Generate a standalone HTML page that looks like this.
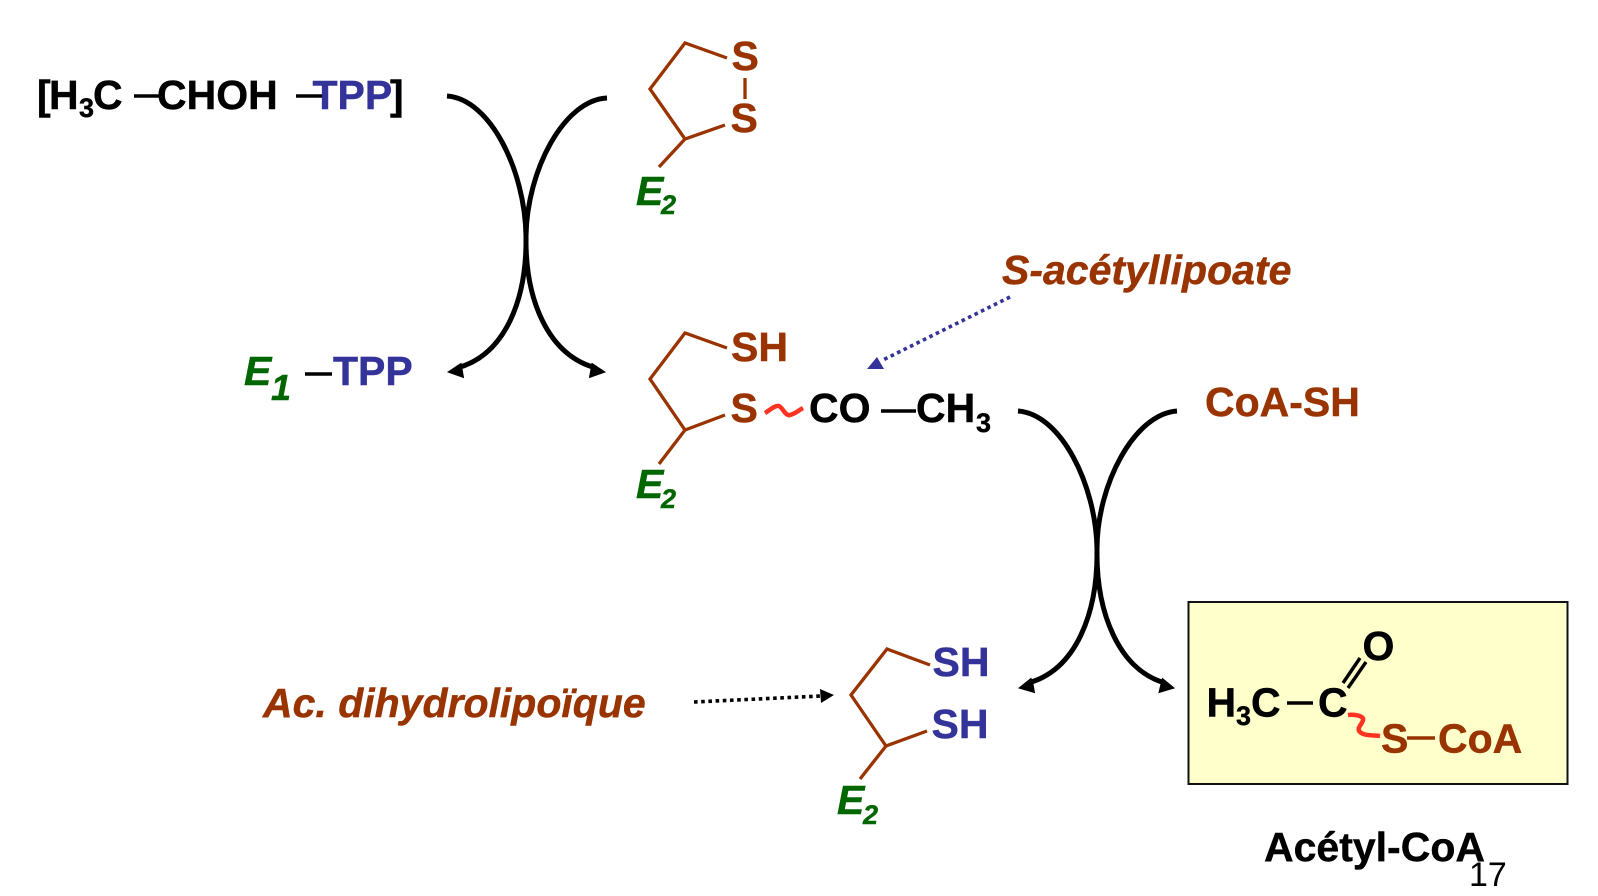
<!DOCTYPE html>
<html>
<head>
<meta charset="utf-8">
<style>
html,body{margin:0;padding:0;background:#fff;width:1598px;height:896px;overflow:hidden}
svg{display:block}
text{font-family:"Liberation Sans",sans-serif;font-weight:bold;font-size:41px;stroke-width:.45px}
.k{fill:#000;stroke:#000}.b{fill:#333399;stroke:#333399}.r{fill:#993300;stroke:#993300}.g{fill:#006600;stroke:#006600}
.i{font-style:italic}
.s{font-size:27px}
</style>
</head>
<body>
<svg width="1598" height="896" viewBox="0 0 1598 896" xmlns="http://www.w3.org/2000/svg">
<rect x="1188.5" y="602" width="379" height="182" fill="#FFFFCC" stroke="#111" stroke-width="2"/>

<!-- curved arrows -->
<g fill="none" stroke="#000" stroke-width="5">
<path d="M447 96C490 99 525 170 526 236C527 300 505 355 457 368"/>
<path d="M607 98C564 100 527 170 526 236C525 300 548 355 596 368"/>
<path d="M1018 411C1061 414 1096 485 1097 549C1098 613 1076 670 1028 683"/>
<path d="M1177 411C1134 414 1097 485 1097 549C1096 613 1119 670 1165 683"/>
</g>
<g fill="#000" stroke="#000" stroke-width="1" stroke-linejoin="miter">
<polygon points="448,372 461,363.5 462,369 463.5,377.5"/>
<polygon points="605,372 592,363.5 591,369 589.5,377.5"/>
<polygon points="1019,688 1031,678.5 1033,684 1034.5,692.5"/>
<polygon points="1174,688 1162.5,678.5 1161,684 1159,692.5"/>
</g>

<!-- rings -->
<g fill="none" stroke="#993300" stroke-width="3.3">
<polyline points="727,58 685,43 650,89 685,139 725,125"/>
<line x1="685" y1="139" x2="659" y2="167"/>
<line x1="745" y1="78" x2="745" y2="99"/>
<polyline points="727,348 685,333 650,379 685,430 725,415"/>
<line x1="685" y1="430" x2="659" y2="464"/>
<polyline points="930,665 887,649 851,695 886,746 927,731"/>
<line x1="886" y1="746" x2="860" y2="779"/>
</g>

<!-- straight bonds -->
<g stroke="#000" stroke-width="3.4">
<line x1="134" y1="96" x2="160" y2="96"/>
<line x1="296" y1="96" x2="325" y2="96"/>
<line x1="305" y1="374" x2="332" y2="374"/>
<line x1="881" y1="411" x2="916" y2="411"/>
<line x1="1287" y1="703" x2="1313" y2="703"/>
<line x1="1343" y1="683" x2="1360" y2="658"/>
<line x1="1348" y1="688" x2="1366" y2="662"/>
</g>
<line x1="1407" y1="738" x2="1435" y2="738" stroke="#993300" stroke-width="3.4"/>

<!-- red wavy bonds -->
<g fill="none" stroke="#FF3322" stroke-width="4.5">
<path d="M765 413C770 410 775 405 779 406C783 408 785 416 790 415C795 414 799 410 803 408"/>
<path d="M1348 715C1355 714 1364 716 1363 720C1362 725 1356 728 1360 732C1364 736 1373 735 1380 736"/>
</g>

<!-- dotted arrows -->
<line x1="1010" y1="297" x2="881" y2="361" stroke="#333399" stroke-width="3.6" stroke-dasharray="3.6 3.6" fill="none"/>
<polygon points="867,369 877,357 884,369" fill="#333399"/>
<line x1="694" y1="702" x2="821" y2="696" stroke="#000" stroke-width="3.6" stroke-dasharray="3.6 3.6" fill="none"/>
<polygon points="834,695 820,689 821,703" fill="#000"/>

<!-- top formula -->
<text class="k" x="37" y="109">[</text>
<text class="k" x="49" y="109">H</text>
<text class="k s" x="79" y="117">3</text>
<text class="k" x="93" y="109">C</text>
<text class="k" x="157" y="109">CHOH</text>
<text class="b" x="312.5" y="109">TPP</text>
<text class="k" x="390" y="109">]</text>

<!-- S atoms -->
<text class="r" x="731.5" y="70">S</text>
<text class="r" x="730.5" y="132">S</text>
<text class="g i" x="636" y="205">E</text>
<text class="g i s" x="661" y="214">2</text>

<!-- E1-TPP -->
<text class="g i" x="244" y="385">E</text>
<text class="g i" style="font-size:36px" x="271" y="400">1</text>
<text class="b" x="333" y="385">TPP</text>

<!-- S-acetyl -->
<text class="r i" x="1002" y="284">S-acétyllipoate</text>
<text class="r" x="731" y="361">SH</text>
<text class="r" x="730.5" y="422">S</text>
<text class="k" x="809" y="422">CO</text>
<text class="k" x="916" y="422">CH</text>
<text class="k s" x="976" y="432">3</text>
<text class="g i" x="636" y="498">E</text>
<text class="g i s" x="661" y="508">2</text>

<text class="r" x="1205" y="416">CoA-SH</text>

<!-- bottom -->
<text class="r i" x="263" y="717">Ac. dihydrolipoïque</text>
<text class="b" x="932.5" y="676">SH</text>
<text class="b" x="931.5" y="738">SH</text>
<text class="g i" x="837" y="814">E</text>
<text class="g i s" x="863" y="824">2</text>

<!-- acetyl-CoA box -->
<text class="k" x="1206.5" y="716.5">H</text>
<text class="k s" x="1236" y="725">3</text>
<text class="k" x="1251" y="716.5">C</text>
<text class="k" x="1318" y="716.5">C</text>
<text class="k" x="1362.5" y="660">O</text>
<text class="r" x="1381" y="752.5">S</text>
<text class="r" x="1438" y="752.5">CoA</text>
<text class="k" x="1264" y="861">Acétyl-CoA</text>
<text x="1469" y="886" style="font-weight:normal;font-size:34px;stroke:none" fill="#000">17</text>
</svg>
</body>
</html>
